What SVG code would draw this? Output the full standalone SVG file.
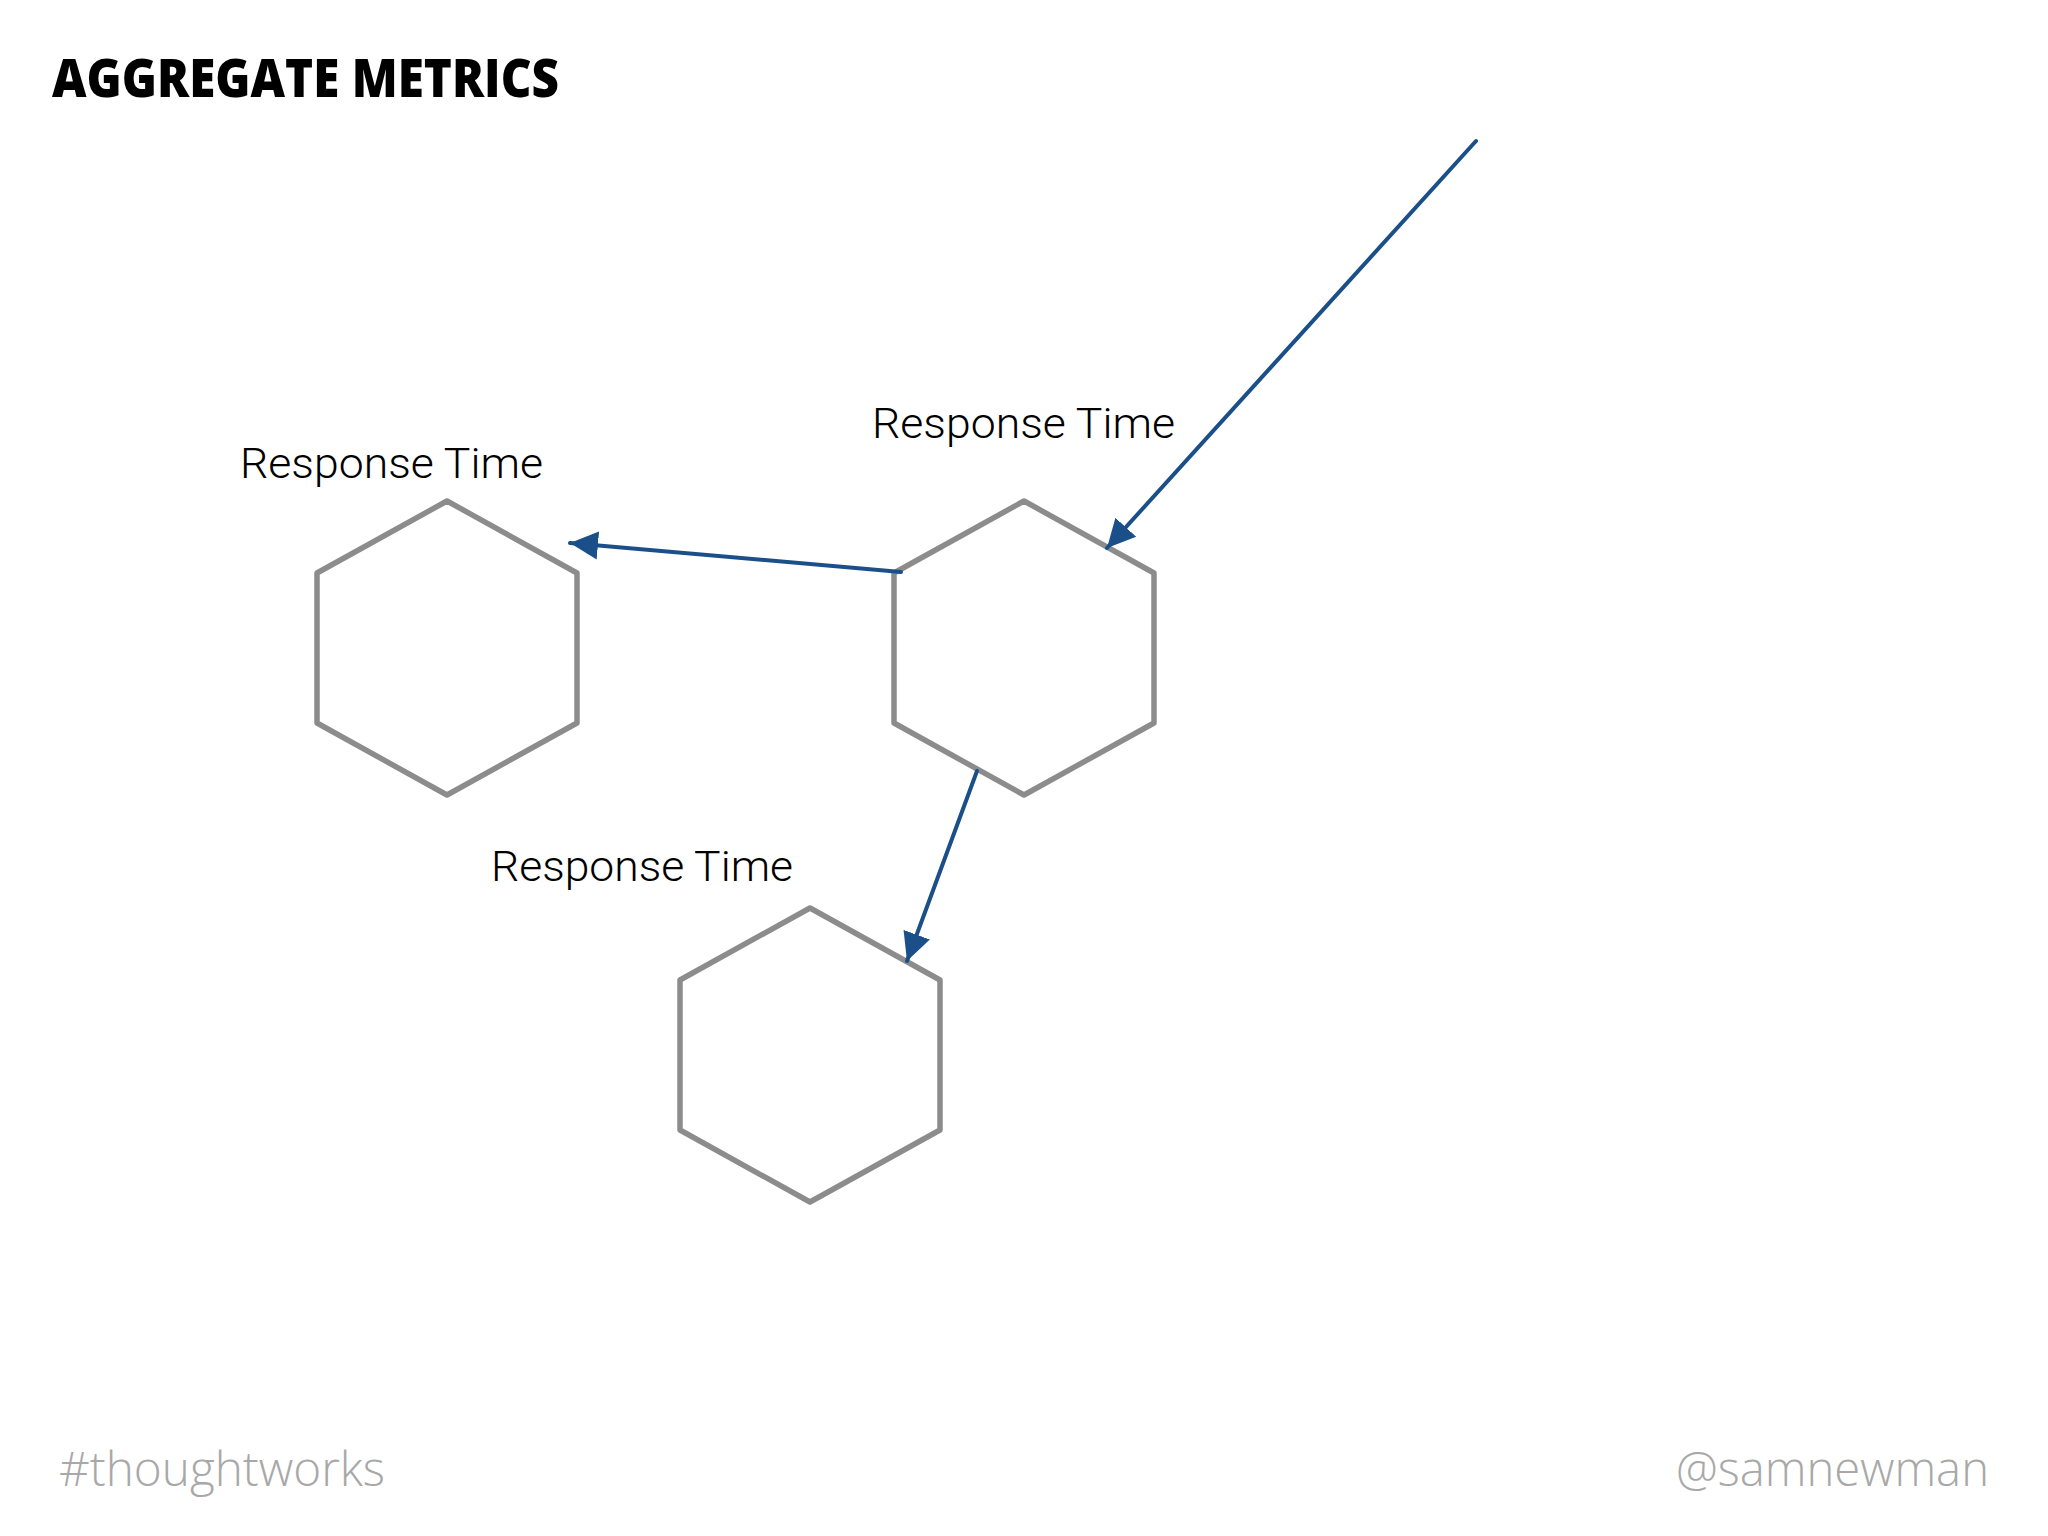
<svg xmlns="http://www.w3.org/2000/svg" width="2048" height="1536" viewBox="0 0 2048 1536">
<style>
.title{font-family:"Open Sans","Liberation Sans",sans-serif;font-weight:800;font-size:53px;fill:#000}
.label{font-family:Roboto,"Liberation Sans",sans-serif;font-weight:300;font-size:43px;fill:#000}
.foot{font-family:"Open Sans","Liberation Sans",sans-serif;font-weight:300;font-size:48px;fill:#a8a8a8}
.hex{fill:none;stroke:#8c8c8c;stroke-width:5.5;stroke-linejoin:round}
.conn{fill:none;stroke:#1b4f8a;stroke-width:4;stroke-linecap:round}
</style>
<defs>
<path id="hexShape" d="M0,-147 L130,-75 L130,75 L0,147 L-130,75 L-130,-75 Z"/>
<marker id="arrow" markerUnits="userSpaceOnUse" markerWidth="30" markerHeight="30" refX="28" refY="15" orient="auto">
<path d="M0,1 L28,15 L0,29 Z" fill="#1b4f8a"/>
</marker>
</defs>
<rect width="2048" height="1536" fill="#fff"/>
<text class="title" x="52" y="97" textLength="507" lengthAdjust="spacingAndGlyphs">AGGREGATE METRICS</text>
<g id="node-left">
<use href="#hexShape" class="hex" transform="translate(447,648)"/>
<text class="label" x="240" y="478" textLength="303" lengthAdjust="spacingAndGlyphs">Response Time</text>
</g>
<g id="node-middle">
<use href="#hexShape" class="hex" transform="translate(1024,648)"/>
<text class="label" x="872" y="438" textLength="303" lengthAdjust="spacingAndGlyphs">Response Time</text>
</g>
<g id="node-bottom">
<use href="#hexShape" class="hex" transform="translate(810,1055)"/>
<text class="label" x="491" y="881" textLength="302" lengthAdjust="spacingAndGlyphs">Response Time</text>
</g>
<g id="connectors">
<line class="conn" x1="1476" y1="141" x2="1107" y2="548" marker-end="url(#arrow)"/>
<line class="conn" x1="901" y1="572" x2="570" y2="543" marker-end="url(#arrow)"/>
<line class="conn" x1="977" y1="771" x2="907" y2="961" marker-end="url(#arrow)"/>
</g>
<text class="foot" x="59" y="1486" textLength="326" lengthAdjust="spacingAndGlyphs">#thoughtworks</text>
<text class="foot" x="1989" y="1486" text-anchor="end" textLength="313" lengthAdjust="spacingAndGlyphs">@samnewman</text>
</svg>
